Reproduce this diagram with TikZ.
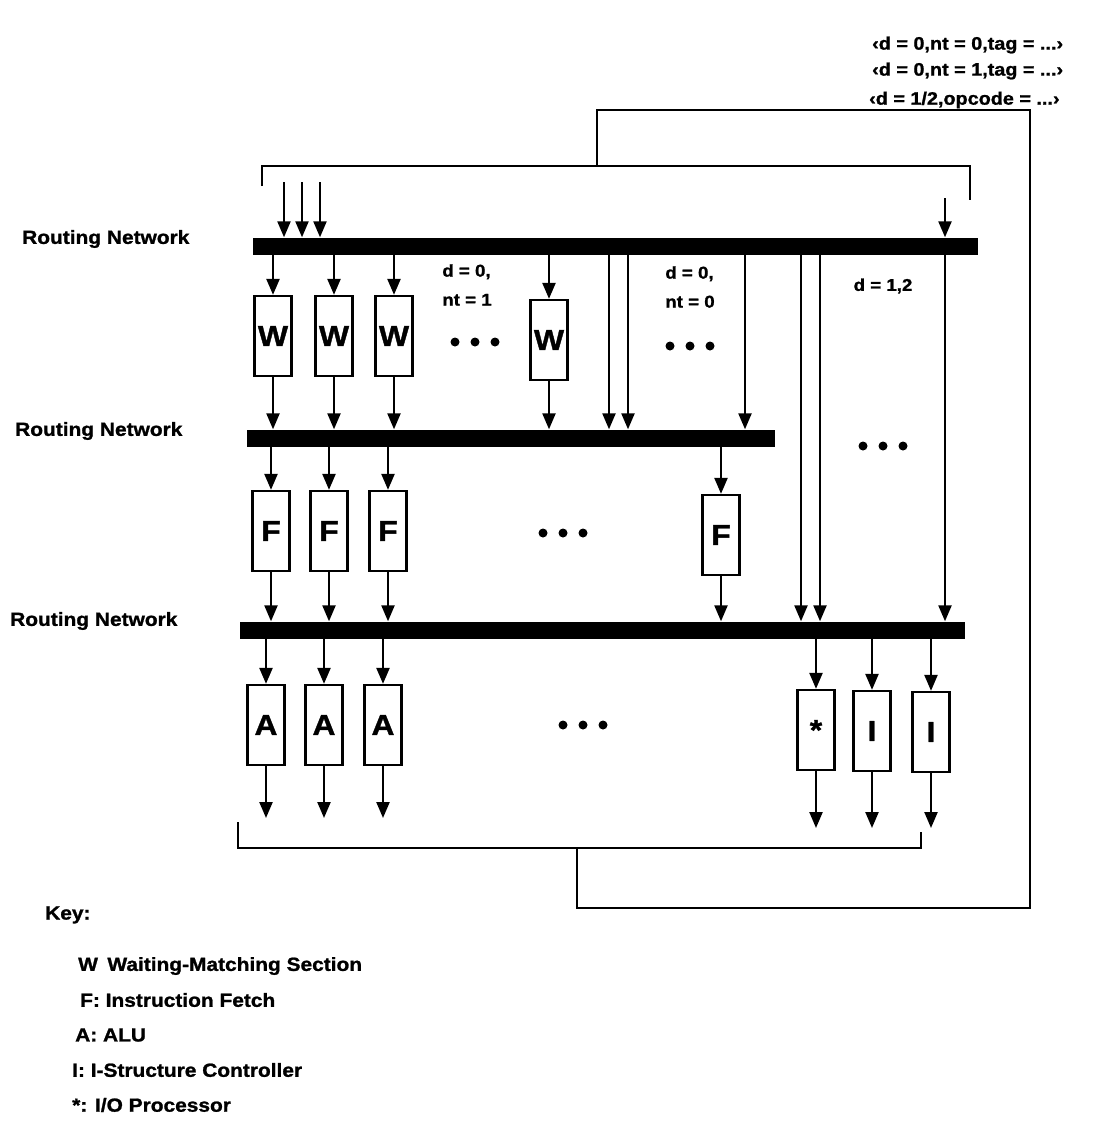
\documentclass[tikz,border=0pt]{standalone}
\usepackage{fontspec}
\setmainfont{Liberation Sans}[FakeStretch=1.1,BoldFeatures={FakeBold=1.2}]
\usetikzlibrary{arrows.meta}
\begin{document}
\begin{tikzpicture}[x=1pt,y=-1pt,
  wire/.style={line width=2.3pt},
  arr/.style={line width=2.3pt,-{Triangle[length=16pt,width=13pt]}},
  bus/.style={fill=black,draw=none,inner sep=0pt,minimum height=17pt,anchor=west},
  unit/.style={draw,line width=2.3pt,minimum width=37pt,minimum height=80pt,inner sep=0pt,
    font=\bfseries\fontsize{29}{29}\selectfont},
  lbl/.style={font=\bfseries\fontsize{19}{22}\selectfont,inner sep=0pt,anchor=west},
  tag/.style={font=\bfseries\fontsize{18}{22}\selectfont,inner sep=0pt,anchor=west},
  cond/.style={font=\bfseries\fontsize{17}{29}\selectfont,inner sep=0pt,align=left}]
\useasboundingbox (0,0) rectangle (1098,1130);

% top-right tags
\node[tag] (tg1) at (872,45) {‹d = 0,nt = 0,tag = ...›};
\node[tag] (tg2) at (872,71) {‹d = 0,nt = 1,tag = ...›};
\node[tag] (tg3) at (869,100) {‹d = 1/2,opcode = ...›};

% routing networks
\node[bus,minimum width=725pt] (b1) at (253,246) {};
\node[bus,minimum width=528pt] (b2) at (247,438) {};
\node[bus,minimum width=725pt] (b3) at (240,630) {};
\node[lbl] (rn1) at (22,239) {Routing Network};
\node[lbl] (rn2) at (15,431) {Routing Network};
\node[lbl] (rn3) at (10,621) {Routing Network};

% units
\node[unit] (w1) at (273,336) {W};
\node[unit] (w2) at (334,336) {W};
\node[unit] (w3) at (394,336) {W};
\node[unit] (w4) at (549,340) {W};
\node[unit] (f1) at (271,531) {F};
\node[unit] (f2) at (329,531) {F};
\node[unit] (f3) at (388,531) {F};
\node[unit] (f4) at (721,535) {F};
\node[unit] (a1) at (266,725) {A};
\node[unit] (a2) at (324,725) {A};
\node[unit] (a3) at (383,725) {A};
\node[unit] (io) at (816,730) {\raisebox{-0.3em}{*}};
\node[unit] (i1) at (872,731) {I};
\node[unit] (i2) at (931,732) {I};

% condition labels
\node[cond] (c1) at (467,285) {d = 0,\\nt = 1};
\node[cond] (c2) at (690,287) {d = 0,\\nt = 0};
\node[cond] (c3) at (883,286) {d = 1,2};

% ellipsis dots
\foreach \cx/\cy in {475/342,690/346,883/446,563/533,583/725}
  \foreach \dx in {-20,0,20}
    \fill ({\cx+\dx},\cy) circle (4.5);

% inputs from top bracket
\coordinate (t1) at (284,182);
\coordinate (t2) at (302,182);
\coordinate (t3) at (320,182);
\coordinate (t4) at (945,198);
\foreach \t in {t1,t2,t3,t4}
  \draw[arr] (\t) -- (\t |- b1.north);

% bus 1 -> W
\foreach \n in {w1,w2,w3,w4} {
  \draw[arr] (\n.north |- b1.south) -- (\n.north);
  \draw[arr] (\n.south) -- (\n.south |- b2.north);
}
% through lines
\coordinate (v1) at (609,0);
\coordinate (v2) at (628,0);
\coordinate (v3) at (745,0);
\coordinate (v4) at (801,0);
\coordinate (v5) at (820,0);
\foreach \v in {v1,v2,v3}
  \draw[arr] (\v |- b1.south) -- (\v |- b2.north);
\foreach \v in {v4,v5,t4}
  \draw[arr] (\v |- b1.south) -- (\v |- b3.north);

% bus 2 -> F
\foreach \n in {f1,f2,f3,f4} {
  \draw[arr] (\n.north |- b2.south) -- (\n.north);
  \draw[arr] (\n.south) -- (\n.south |- b3.north);
}
% bus 3 -> A, *, I
\coordinate (outA) at (0,818);
\coordinate (outB) at (0,828);
\foreach \n in {a1,a2,a3} {
  \draw[arr] (\n.north |- b3.south) -- (\n.north);
  \draw[arr] (\n.south) -- (\n.south |- outA);
}
\foreach \n in {io,i1,i2} {
  \draw[arr] (\n.north |- b3.south) -- (\n.north);
  \draw[arr] (\n.south) -- (\n.south |- outB);
}

% brackets and feedback loop
\draw[wire] (262,186) -- (262,166) -- (970,166) -- (970,200);
\draw[wire] (238,822) -- (238,848) -- (921,848) -- (921,832);
\draw[wire] (577,848) -- (577,908) -- (1030,908) -- (1030,110) -- (597,110) -- (597,166);

% key
\node[lbl] (key) at (45,915) {Key:};
\node[lbl] (k1) at (78,966) {W\hspace{0.5em}Waiting-Matching Section};
\node[lbl] (k2) at (80,1000) {F: Instruction Fetch};
\node[lbl] (k3) at (75,1035) {A: ALU};
\node[lbl] (k4) at (72,1070) {I: I-Structure Controller};
\node[lbl] (k5) at (72,1105) {*: I/O Processor};
\end{tikzpicture}
\end{document}
